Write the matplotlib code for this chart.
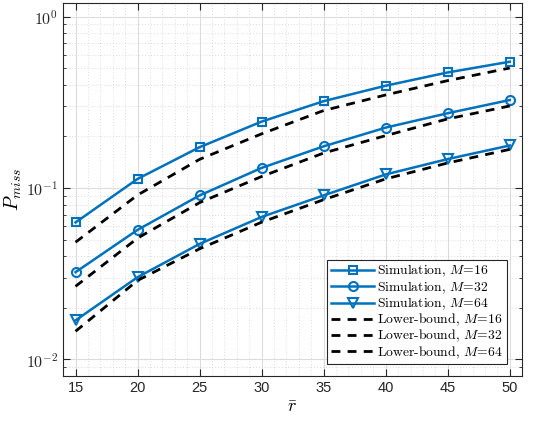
import numpy as np
import matplotlib
matplotlib.use('Agg')
import matplotlib.pyplot as plt
from matplotlib.ticker import LogLocator, NullFormatter, FuncFormatter

plt.rcParams['font.family'] = ['Liberation Sans', 'DejaVu Sans']
plt.rcParams['mathtext.fontset'] = 'cm'

# data
r_bar = [15, 20, 25, 30, 35, 40, 45, 50]
sim_16 = [0.063, 0.113, 0.173, 0.244, 0.321, 0.395, 0.472, 0.545]
sim_32 = [0.0323, 0.057, 0.0905, 0.131, 0.175, 0.225, 0.273, 0.326]
sim_64 = [0.0169, 0.0302, 0.0472, 0.0678, 0.0906, 0.120, 0.1475, 0.177]
lb_16 = [0.0483, 0.091, 0.147, 0.207, 0.283, 0.349, 0.423, 0.501]
lb_32 = [0.0267, 0.051, 0.0822, 0.1167, 0.160, 0.202, 0.253, 0.301]
lb_64 = [0.0146, 0.0289, 0.0442, 0.0632, 0.0855, 0.113, 0.140, 0.168]

blue = '#0072BD'
fig = plt.figure(figsize=(5.35, 4.24), dpi=100)
ax = fig.add_axes([0.118, 0.113, 0.858, 0.880])

sim_style = dict(color=blue, lw=1.8, mew=1.5, mfc='none')
ax.plot(r_bar, sim_16, marker='s', ms=5.8, label=r'$\mathrm{Simulation,}\,M\!=\!16$', **sim_style)
ax.plot(r_bar, sim_32, marker='o', ms=6.5, label=r'$\mathrm{Simulation,}\,M\!=\!32$', **sim_style)
ax.plot(r_bar, sim_64, marker='v', ms=7, label=r'$\mathrm{Simulation,}\,M\!=\!64$', **sim_style)

lb_style = dict(color='black', lw=2, linestyle=(0, (3.2, 2.6)))
ax.plot(r_bar, lb_16, label=r'$\mathrm{Lower\text{-}bound,}\,M\!=\!16$', **lb_style)
ax.plot(r_bar, lb_32, label=r'$\mathrm{Lower\text{-}bound,}\,M\!=\!32$', **lb_style)
ax.plot(r_bar, lb_64, label=r'$\mathrm{Lower\text{-}bound,}\,M\!=\!64$', **lb_style)

ax.set_yscale('log')
ax.set_xlim(14, 51)
ax.set_ylim(0.008, 1.2)
ax.set_xticks(r_bar)
ax.yaxis.set_major_locator(LogLocator(base=10, numticks=10))
ax.yaxis.set_major_formatter(FuncFormatter(lambda v, p: r'$\mathsf{10^{%d}}$' % round(np.log10(v))))
ax.yaxis.set_minor_locator(LogLocator(base=10, subs=np.arange(2, 10), numticks=20))
ax.yaxis.set_minor_formatter(NullFormatter())
ax.xaxis.set_minor_locator(plt.MultipleLocator(1))

ax.grid(True, which='major', color='#dcdcdc', lw=0.8)
ax.grid(True, which='minor', color='#d0d0d0', lw=0.6, linestyle=(0, (1, 2.5)))
ax.set_axisbelow(True)

for s in ax.spines.values():
    s.set_color('#262626')
    s.set_linewidth(0.8)
ax.tick_params(which='both', direction='in', top=True, right=True, colors='#262626', labelsize=10.5)
ax.tick_params(axis='y', labelsize=11.5)
ax.tick_params(which='major', length=5)
ax.tick_params(which='minor', length=2.5)
ax.tick_params(axis='x', which='minor', length=0)

ax.set_xlabel(r'$\bar{r}$', fontsize=13, labelpad=3)
ax.set_ylabel(r'$P_{miss}$', fontsize=14)
ax.yaxis.set_label_coords(-0.086, 0.5)

leg = ax.legend(loc='lower right', bbox_to_anchor=(0.966, 0.032), borderaxespad=0, fontsize=9.8,
                handlelength=3.2, handletextpad=0.2, borderpad=0.25, labelspacing=0.0,
                fancybox=False, framealpha=1, edgecolor='#262626')
leg.get_frame().set_linewidth(0.8)

fig.savefig('out.png', dpi=100)
